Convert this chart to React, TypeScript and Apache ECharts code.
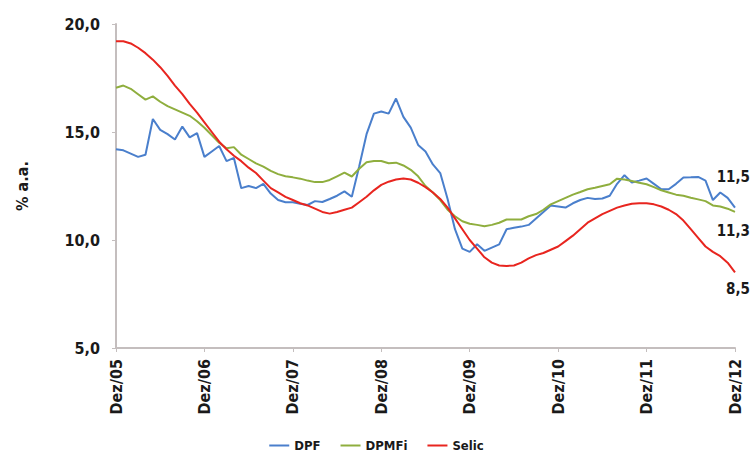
import React, { useEffect, useRef } from "react";
import * as echarts from "echarts";

const MONTHS = ["Jan", "Fev", "Mar", "Abr", "Mai", "Jun", "Jul", "Ago", "Set", "Out", "Nov", "Dez"];
const N_POINTS = 85; // Dez/05 .. Dez/12, monthly
const categories: string[] = [];
for (let i = 0; i < N_POINTS; i++) {
  const m = (11 + i) % 12;
  const y = 5 + Math.floor((11 + i) / 12);
  categories.push(`${MONTHS[m]}/${String(y).padStart(2, "0")}`);
}

const DPF = [
  14.2, 14.15, 14.0, 13.85, 13.95, 15.6, 15.1, 14.9, 14.65, 15.25,
  14.75, 14.95, 13.85, 14.1, 14.35, 13.65, 13.8, 12.4, 12.5, 12.4,
  12.6, 12.15, 11.85, 11.75, 11.75, 11.68, 11.62, 11.8, 11.76, 11.9,
  12.05, 12.25, 12.0, 13.4, 14.9, 15.85, 15.95, 15.85, 16.55, 15.7,
  15.2, 14.4, 14.1, 13.5, 13.1, 11.9, 10.5, 9.6, 9.45, 9.8,
  9.5, 9.65, 9.8, 10.5, 10.57, 10.62, 10.7, 11.0, 11.3, 11.6,
  11.55, 11.5, 11.7, 11.85, 11.95, 11.9, 11.92, 12.05, 12.6, 13.0,
  12.66, 12.75, 12.85, 12.6, 12.35, 12.35, 12.6, 12.89, 12.9, 12.92,
  12.75, 11.85, 12.2, 11.95, 11.5,
];

const DPMFi = [
  17.05, 17.15, 17.0, 16.75, 16.5, 16.65, 16.4, 16.2, 16.05, 15.9,
  15.75, 15.5, 15.2, 14.85, 14.5, 14.25, 14.3, 13.95, 13.75, 13.55,
  13.4, 13.2, 13.05, 12.95, 12.9, 12.84, 12.75, 12.68, 12.68, 12.78,
  12.95, 13.12, 12.94, 13.3, 13.6, 13.66, 13.66, 13.55, 13.58, 13.45,
  13.25, 12.95, 12.5, 12.2, 11.85, 11.4, 11.1, 10.87, 10.75, 10.7,
  10.64, 10.7, 10.8, 10.95, 10.95, 10.95, 11.1, 11.2, 11.4, 11.65,
  11.8, 11.95, 12.1, 12.22, 12.35, 12.42, 12.5, 12.58, 12.84, 12.8,
  12.73, 12.65, 12.58, 12.45, 12.3, 12.2, 12.1, 12.05, 11.96, 11.88,
  11.8, 11.6, 11.55, 11.45, 11.3,
];

const Selic = [
  19.2, 19.2, 19.1, 18.9, 18.65, 18.35, 18.0, 17.6, 17.15, 16.75,
  16.3, 15.9, 15.45, 15.0, 14.55, 14.2, 13.9, 13.65, 13.35, 13.1,
  12.75, 12.4, 12.2, 12.0, 11.85, 11.7, 11.6, 11.45, 11.3, 11.22,
  11.3, 11.4, 11.5, 11.75, 12.0, 12.3, 12.55, 12.7, 12.8, 12.85,
  12.8, 12.65, 12.45, 12.2, 11.9, 11.5, 11.0, 10.5, 10.0, 9.6,
  9.2, 8.95, 8.82, 8.8, 8.82, 8.95, 9.15, 9.3, 9.4, 9.55,
  9.7, 9.95, 10.2, 10.5, 10.8, 11.0, 11.2, 11.35, 11.5, 11.6,
  11.68, 11.7, 11.7, 11.65, 11.55, 11.4, 11.2, 10.9, 10.5, 10.1,
  9.7, 9.45, 9.25, 8.95, 8.5,
];

const SERIES_NAMES = ["DPF", "DPMFi", "Selic"];
const SERIES_COLORS = ["#4a7fcc", "#8fae3e", "#e8251f"];
const END_LABEL_OFFSETS: [number, number][] = [[15, -31], [15, 19], [15, 17]];

const FONT = "'DejaVu Sans Condensed', 'DejaVu Sans', sans-serif";
const TEXT_COLOR = "#1a1a1a";
const fmt = (v: number) => v.toFixed(1).replace(".", ",");

export default function App() {
  const ref = useRef<HTMLDivElement>(null);

  useEffect(() => {
    if (!ref.current) return;
    const chart = echarts.init(ref.current, undefined, { renderer: "svg" });
    const datasets = [DPF, DPMFi, Selic];
    const series = datasets.map((arr, si) => ({
      name: SERIES_NAMES[si],
      type: "line",
      symbol: "none",
      showSymbol: true,
      showAllSymbol: true,
      clip: false,
      lineStyle: { color: SERIES_COLORS[si], width: 2 },
      itemStyle: { color: SERIES_COLORS[si] },
      data: arr.map((v, i) =>
        i === arr.length - 1
          ? {
              value: v,
              symbol: "circle",
              symbolSize: 1,
              itemStyle: { color: "rgba(0,0,0,0)" },
              label: {
                show: true,
                position: "inside",
                align: "right",
                verticalAlign: "middle",
                offset: END_LABEL_OFFSETS[si],
                formatter: () => fmt(v),
                fontFamily: FONT,
                fontWeight: "bold",
                fontSize: 15,
                color: TEXT_COLOR,
              },
            }
          : v
      ),
    }));

    chart.setOption({
      animation: false,
      backgroundColor: "#ffffff",
      textStyle: { fontFamily: FONT },
      grid: { left: 116, right: 18, top: 24, bottom: 108, containLabel: false },
      legend: {
        data: SERIES_NAMES,
        left: "center",
        top: 434,
        itemWidth: 20,
        itemHeight: 14,
        itemGap: 20,
        icon: "path://M0,6 L20,6 L20,8 L0,8 Z",
        textStyle: { fontFamily: FONT, fontWeight: "bold", fontSize: 13, color: TEXT_COLOR },
      },
      xAxis: {
        type: "category",
        data: categories,
        boundaryGap: false,
        axisLine: { show: true, lineStyle: { color: "#c4bebe", width: 2 } },
        axisTick: { show: true, interval: 11, length: 4, lineStyle: { color: "#c4bebe" } },
        axisLabel: {
          interval: 11,
          rotate: 90,
          margin: 11,
          fontFamily: FONT,
          fontWeight: "bold",
          fontSize: 16,
          color: TEXT_COLOR,
        },
        splitLine: { show: false },
      },
      yAxis: {
        type: "value",
        min: 5,
        max: 20,
        interval: 5,
        name: "% a.a.",
        nameLocation: "middle",
        nameGap: 86,
        nameTextStyle: { fontFamily: FONT, fontWeight: "bold", fontSize: 16, color: TEXT_COLOR },
        axisLine: { show: true, lineStyle: { color: "#c4bebe", width: 2 } },
        axisTick: { show: true, length: 4, lineStyle: { color: "#c4bebe" } },
        axisLabel: {
          margin: 16,
          formatter: (v: number) => fmt(v),
          fontFamily: FONT,
          fontWeight: "bold",
          fontSize: 16,
          color: TEXT_COLOR,
        },
        splitLine: { show: false },
      },
      series,
    });

    return () => chart.dispose();
  }, []);

  return (
    <div
      ref={ref}
      style={{ position: "absolute", left: 0, top: 0, width: 753, height: 456 }}
    />
  );
}
